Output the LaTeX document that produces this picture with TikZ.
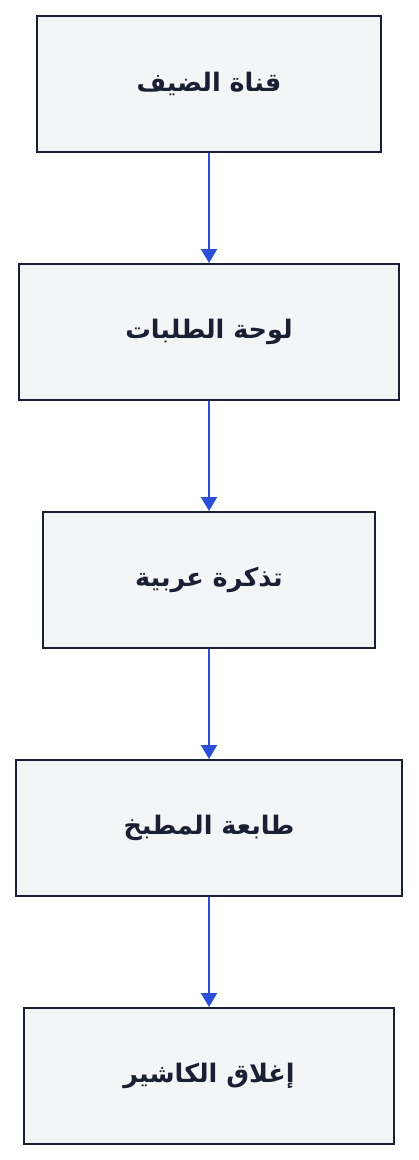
\documentclass[tikz,border=0pt]{standalone}
\usepackage{fontspec}
\TeXXeTstate=1
\newfontfamily\arabicfont[Script=Arabic]{DejaVu Sans}
\usetikzlibrary{arrows.meta}
\definecolor{boxfill}{HTML}{F4F5F7}
\definecolor{boxline}{HTML}{1A2033}
\definecolor{arrowblue}{HTML}{2B4FD8}
\tikzset{
  x=1pt,y=-1pt,
  stepbox/.style={draw=boxline,fill=boxfill,line width=2pt,inner sep=0pt},
  lbl/.style={font=\arabicfont\bfseries\fontsize{25.5}{30}\selectfont,text=boxline},
  flow/.style={draw=arrowblue,line width=2pt,-{Triangle[length=14pt,width=16pt]}}
}
\begin{document}
\begin{tikzpicture}
\useasboundingbox (0,0) rectangle (418,1160);
\node[stepbox,minimum width=344pt,minimum height=136pt] (b1) at (209,84) {};
\node[stepbox,minimum width=380pt,minimum height=136pt] (b2) at (209,332) {};
\node[stepbox,minimum width=332pt,minimum height=136pt] (b3) at (209,580) {};
\node[stepbox,minimum width=386pt,minimum height=136pt] (b4) at (209,828) {};
\node[stepbox,minimum width=370pt,minimum height=136pt] (b5) at (209,1076) {};
\node[lbl] (t1) at (b1) {\beginR قناة الضيف\endR};
\node[lbl] (t2) at (b2) {\beginR لوحة الطلبات\endR};
\node[lbl] (t3) at (b3) {\beginR تذكرة عربية\endR};
\node[lbl] (t4) at (b4) {\beginR طابعة المطبخ\endR};
\node[lbl] (t5) at (b5) {\beginR إغلاق الكاشير\endR};
\draw[flow] (b1.south) -- (b2.north);
\draw[flow] (b2.south) -- (b3.north);
\draw[flow] (b3.south) -- (b4.north);
\draw[flow] (b4.south) -- (b5.north);
\end{tikzpicture}
\end{document}
